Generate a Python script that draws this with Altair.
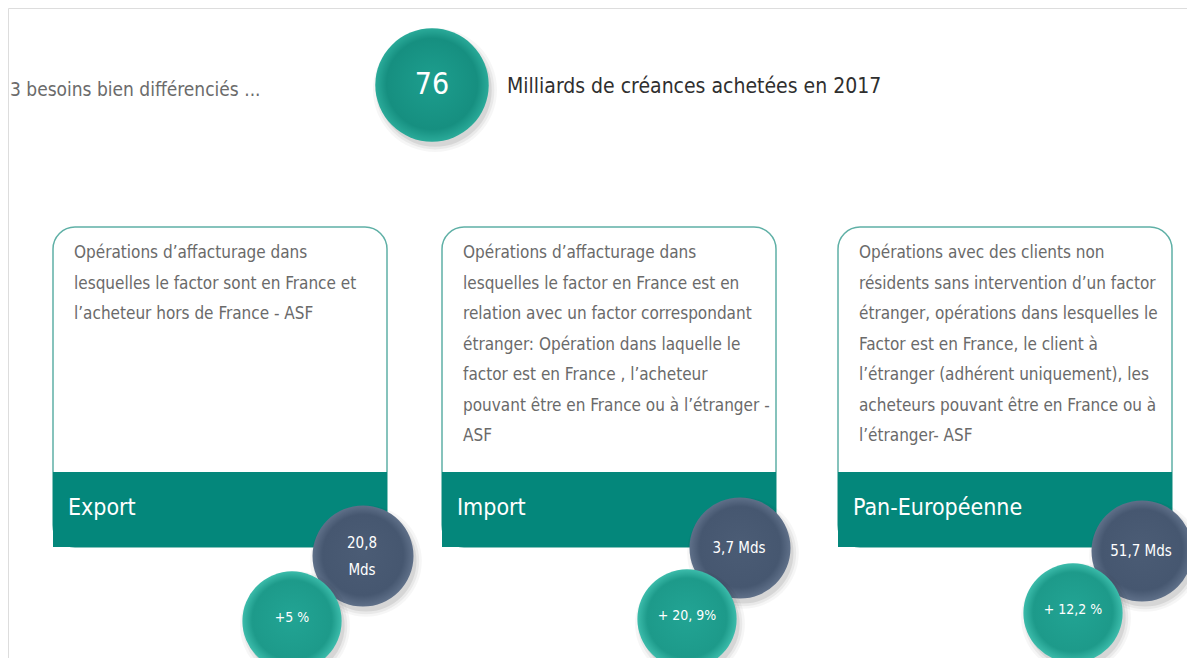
import altair as alt
import pandas as pd

# ---------------- data ----------------
header_left = "3 besoins bien différenciés ..."
total_value = "76"
total_caption = "Milliards de créances achetées en 2017"

categories = ["Export", "Import", "Pan-Européenne"]
descriptions = [
    ["Opérations d’affacturage dans",
     "lesquelles le factor sont en France et",
     "l’acheteur hors de France - ASF"],
    ["Opérations d’affacturage dans",
     "lesquelles le factor en France est en",
     "relation avec un factor correspondant",
     "étranger: Opération dans laquelle le",
     "factor est en France , l’acheteur",
     "pouvant être en France ou à l’étranger -",
     "ASF"],
    ["Opérations avec des clients non",
     "résidents sans intervention d’un factor",
     "étranger, opérations dans lesquelles  le",
     "Factor est en France, le client à",
     "l’étranger (adhérent uniquement), les",
     "acheteurs pouvant être en France ou à",
     "l’étranger- ASF"],
]
volume_labels = [["20,8", "Mds"], ["3,7 Mds"], ["51,7 Mds"]]
growth_labels = ["+5 %", "+ 20, 9%", "+ 12,2 %"]

# ---------------- layout (pixel frame of the reference) ----------------
FONT = "'DejaVu Sans Condensed', 'Roboto', sans-serif"
card_left = [53, 442, 838]
card_w = 334
card_top, band_top, band_bottom = 227, 472, 547
line_h = 30.5
dark_dx, dark_y = [310, 298, 304], [556, 548, 551]
teal_dx, teal_y = [239, 245, 235], [621, 619, 613]

X = alt.X("x:Q", scale=alt.Scale(domain=[8, 1187], nice=False, zero=False), axis=None)
Y = alt.Y("y:Q", scale=alt.Scale(domain=[8, 658], nice=False, zero=False, reverse=True), axis=None)
X2 = alt.X2("x2:Q")
Y2 = alt.Y2("y2:Q")

cards = pd.DataFrame({
    "x": card_left, "x2": [c + card_w for c in card_left],
    "y": [card_top] * 3, "y2": [band_bottom] * 3,
})
bands = pd.DataFrame({
    "x": card_left, "x2": [c + card_w for c in card_left],
    "y": [band_top] * 3, "y2": [band_bottom] * 3, "cat": categories,
})

card_layer = alt.Chart(cards).mark_rect(
    fill="white", stroke="#5fb0a6", strokeWidth=1.5, cornerRadius=22
).encode(x=X, x2=X2, y=Y, y2=Y2)
band_layer = alt.Chart(bands).mark_rect(fill="#04877b").encode(x=X, x2=X2, y=Y, y2=Y2)
band_text = alt.Chart(bands.assign(yt=[508] * 3)).mark_text(
    font=FONT, fontSize=23, color="white", align="left", baseline="middle", dx=15
).encode(x=X, y=alt.Y("yt:Q", scale=alt.Scale(domain=[8, 658], nice=False, zero=False, reverse=True), axis=None),
         text="cat:N")

desc_rows = []
for i, lines in enumerate(descriptions):
    for j, ln in enumerate(lines):
        desc_rows.append({"x": card_left[i] + 21, "y": 253 + j * line_h, "t": ln})
desc_layer = alt.Chart(pd.DataFrame(desc_rows)).mark_text(
    font=FONT, fontSize=17, color="#6a6a6a", align="left", baseline="middle"
).encode(x=X, y=Y, text="t:N")

def radial(c_in, c_mid, c_out):
    return {"gradient": "radial", "x1": 0.5, "y1": 0.45, "r1": 0.0,
            "x2": 0.5, "y2": 0.5, "r2": 0.5,
            "stops": [{"offset": 0, "color": c_in},
                      {"offset": 0.8, "color": c_mid},
                      {"offset": 1, "color": c_out}]}

def bubble(df, r, fill):
    layers = []
    for extra, op in [(6, 0.035), (3, 0.05), (0, 0.08)]:
        sh = df.assign(x=df.x + 3, y=df.y + 5)
        layers.append(alt.Chart(sh).mark_circle(
            size=3.1416 * (r + extra) ** 2, color="#000000", opacity=op
        ).encode(x=X, y=Y))
    layers.append(alt.Chart(df).mark_circle(size=3.1416 * r ** 2, fill=fill, opacity=1)
                  .encode(x=X, y=Y))
    return layers

dark = pd.DataFrame({"x": [c + d for c, d in zip(card_left, dark_dx)], "y": dark_y})
teal = pd.DataFrame({"x": [c + d for c, d in zip(card_left, teal_dx)], "y": teal_y})
big = pd.DataFrame({"x": [432], "y": [85]})

vol_rows = []
for i, parts in enumerate(volume_labels):
    n = len(parts)
    for j, p in enumerate(parts):
        vol_rows.append({"x": dark.x[i] - 1, "y": dark.y[i] + (j - (n - 1) / 2) * 27, "t": p})
vol_text = alt.Chart(pd.DataFrame(vol_rows)).mark_text(
    font=FONT, fontSize=15, color="white", align="center", baseline="middle"
).encode(x=X, y=Y, text="t:N")
gro_text = alt.Chart(teal.assign(t=growth_labels, y=teal.y - 3)).mark_text(
    font=FONT, fontSize=14, color="white", align="center", baseline="middle"
).encode(x=X, y=Y, text="t:N")

big_text = alt.Chart(big.assign(t=[total_value])).mark_text(
    font=FONT, fontSize=30, color="white", align="center", baseline="middle"
).encode(x=X, y=Y, text="t:N")
header = alt.Chart(pd.DataFrame({"x": [10], "y": [90], "t": [header_left]})).mark_text(
    font=FONT, fontSize=19, color="#6b6b6b", align="left", baseline="middle"
).encode(x=X, y=Y, text="t:N")
caption = alt.Chart(pd.DataFrame({"x": [507], "y": [87], "t": [total_caption]})).mark_text(
    font=FONT, fontSize=21, color="#2f2f2f", align="left", baseline="middle"
).encode(x=X, y=Y, text="t:N")

layers = [header, caption]
layers += bubble(big, 64, radial("#1d9e8e", "#168f80", "#2aaa99"))
layers += [big_text, card_layer, band_layer, band_text, desc_layer]
layers += bubble(dark, 57, radial("#4b5c75", "#465770", "#5f7089"))
layers += bubble(teal, 56, radial("#22a494", "#1d9a8a", "#3cbcab"))
layers += [vol_text, gro_text]

chart = alt.layer(*layers).properties(
    width=1179, height=650, padding=0, autosize=alt.AutoSizeParams(type="none")
).configure_view(strokeOpacity=0, strokeWidth=0).configure(background="white")

chart.save("out.html", embed_options={"renderer": "svg", "actions": False})
